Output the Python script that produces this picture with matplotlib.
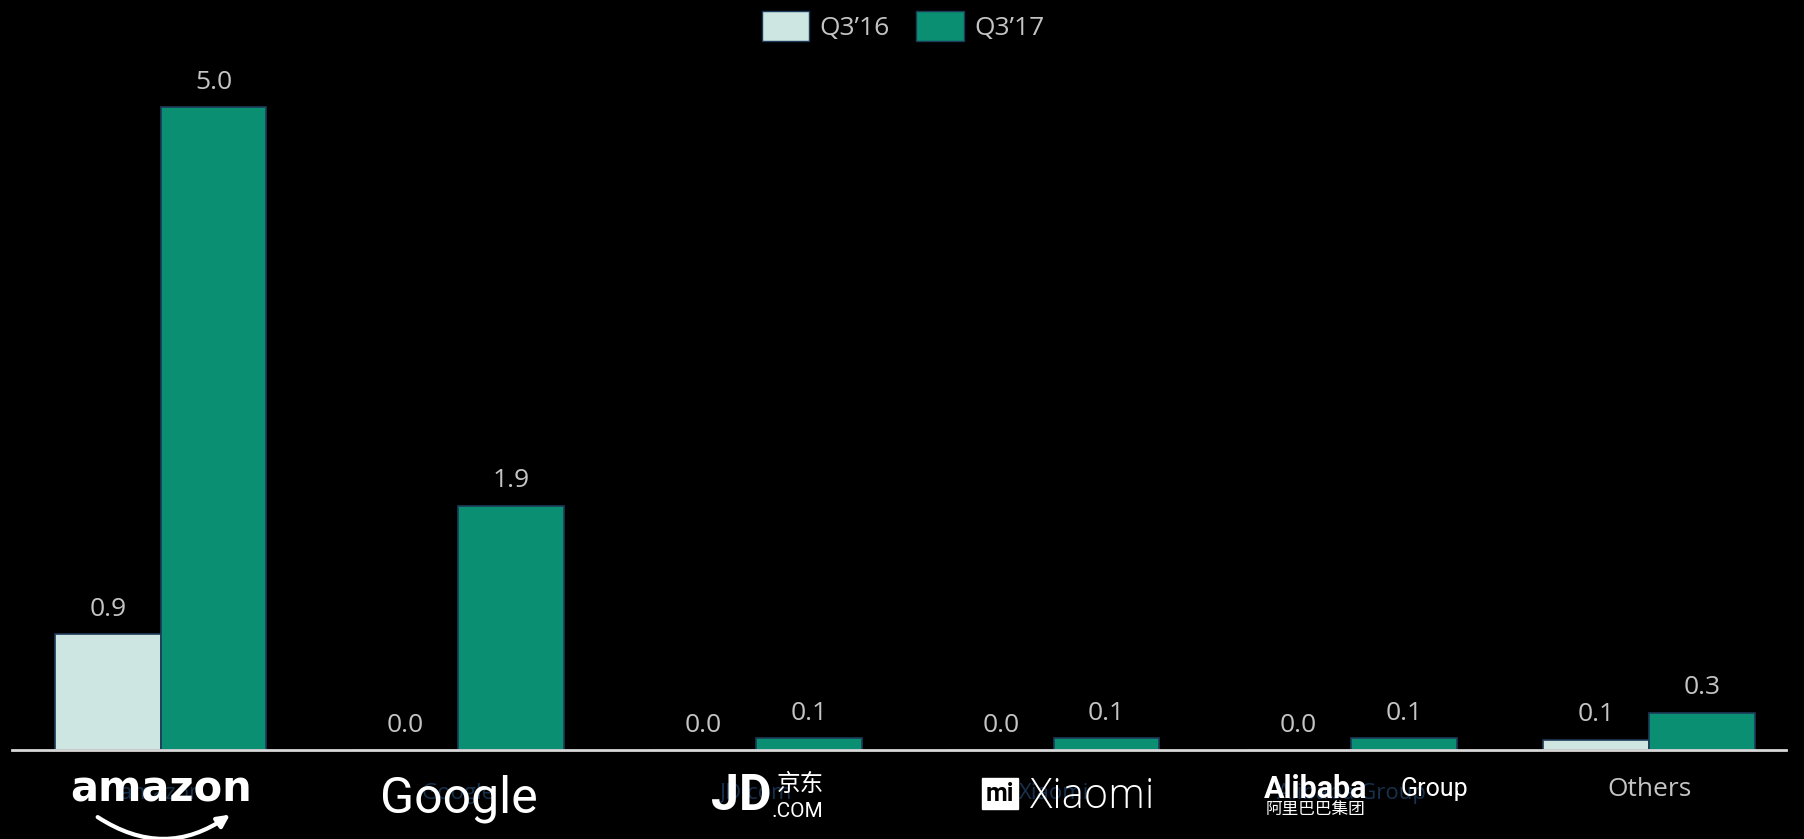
import matplotlib.pyplot as plt
import numpy as np
from matplotlib.patches import Patch

# data
companies = ['amazon', 'Google', 'JD.com', 'Xiaomi', 'Alibaba Group', 'Others']
q3_16 = [0.9, 0.0, 0.0, 0.0, 0.0, 0.08]
q3_17 = [5.0, 1.9, 0.09, 0.09, 0.09, 0.29]
series_names = ["Q3\u201916", "Q3\u201917"]

light = '#cde6e1'
teal = '#0b8f72'
edge = '#1d3a58'
grey = '#c4c4c4'

fig = plt.figure(figsize=(18.04, 8.39), dpi=100, facecolor='black')
ax = fig.add_axes([12 / 1804, 89 / 839, 1774 / 1804, 707 / 839])
ax.set_facecolor('black')

x = np.arange(len(companies))
w = 0.355
b1 = ax.bar(x - w / 2, q3_16, w, color=light, edgecolor=edge, linewidth=1.2)
b2 = ax.bar(x + w / 2, q3_17, w, color=teal, edgecolor=edge, linewidth=1.2)

for bars, vals in [(b1, q3_16), (b2, q3_17)]:
    for r, v in zip(bars, vals):
        ax.annotate(f'{v:.1f}', (r.get_x() + r.get_width() / 2, r.get_height()),
                    xytext=(0, 9), textcoords='offset points', ha='center', va='bottom',
                    color=grey, fontsize=19, family='Open Sans')

ax.set_xlim(-0.5, 5.46)
ax.set_ylim(0, 5.5)
for s in ['top', 'right', 'left']:
    ax.spines[s].set_visible(False)
ax.spines['bottom'].set_color('#d8d8d8')
ax.spines['bottom'].set_linewidth(2)
ax.set_yticks([])
ax.set_xticks([])

# faint names behind the logos, then the logo-like labels
ty = -0.34
for i, name in enumerate(companies[:-1]):
    ax.text(x[i], ty, name, ha='center', va='center', color='#17304c', fontsize=16,
            family='Open Sans', zorder=1)

ax.text(x[0], ty + 0.03, 'amazon', ha='center', va='center', color='white', fontsize=30,
        family='Liberation Sans Narrow', weight='bold', zorder=2)
ax.annotate('', (x[0] + 0.24, ty - 0.15), xytext=(x[0] - 0.22, ty - 0.17),
            arrowprops=dict(arrowstyle='-|>', color='white', lw=3, mutation_scale=18,
                            connectionstyle='arc3,rad=0.35'),
            annotation_clip=False, zorder=2)
ax.text(x[1], ty - 0.04, 'Google', ha='center', va='center', color='white', fontsize=36,
        family='Roboto', zorder=2)
ax.text(x[2] + 0.05, ty - 0.02, 'JD', ha='right', va='center', color='white', fontsize=36,
        family='Roboto', weight='bold', zorder=2)
ax.text(x[2] + 0.07, ty + 0.07, '京东', ha='left', va='center', color='white', fontsize=17,
        family='Noto Sans CJK SC', zorder=2)
ax.text(x[2] + 0.05, ty - 0.14, '.COM', ha='left', va='center', color='white', fontsize=15,
        family='Roboto', zorder=2)
ax.text(x[3] - 0.18, ty, 'mi', ha='center', va='center', color='black', fontsize=18,
        family='Roboto', weight='bold', zorder=2,
        bbox=dict(boxstyle='square,pad=0.15', fc='white', ec='white'))
ax.text(x[3] - 0.08, ty - 0.02, 'Xiaomi', ha='left', va='center', color='white', fontsize=30,
        family='Open Sans', weight='light', zorder=2)
ax.text(x[4] - 0.12, ty + 0.04, 'Alibaba', ha='center', va='center', color='white', fontsize=22,
        family='Roboto', weight='bold', zorder=2)
ax.text(x[4] + 0.28, ty + 0.04, 'Group', ha='center', va='center', color='white', fontsize=18,
        family='Roboto', zorder=2)
ax.text(x[4] - 0.12, ty - 0.12, '阿里巴巴集团', ha='center', va='center', color='white', fontsize=12,
        family='Noto Sans CJK SC', zorder=2)
ax.text(x[5], ty + 0.03, 'Others', ha='center', va='center', color=grey, fontsize=19,
        family='Open Sans')

handles = [Patch(facecolor=light, edgecolor=edge, label=series_names[0]),
           Patch(facecolor=teal, edgecolor=edge, label=series_names[1])]
leg = fig.legend(handles=handles, loc='center', bbox_to_anchor=(903 / 1804, 1 - 26 / 839), ncol=2,
                 frameon=False, prop={'family': 'Open Sans', 'size': 19},
                 handlelength=1.8, handleheight=1.4, columnspacing=1.0, handletextpad=0.4)
for t in leg.get_texts():
    t.set_color(grey)

fig.savefig('out.png', dpi=100, facecolor='black')
